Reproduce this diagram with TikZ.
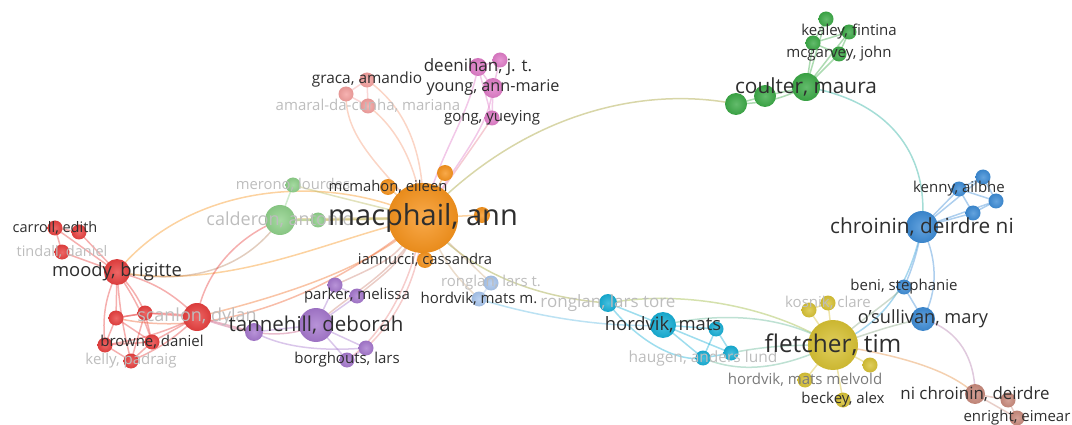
\documentclass[tikz,border=0pt]{standalone}
\usepackage{fontspec}
\setmainfont{Open Sans}
\definecolor{cOr}{HTML}{F7941D}
\definecolor{cRed}{HTML}{E8403F}
\definecolor{cLg}{HTML}{8FD18A}
\definecolor{cPu}{HTML}{A678CE}
\definecolor{cLb}{HTML}{A9C6EE}
\definecolor{cCy}{HTML}{17AFD6}
\definecolor{cYe}{HTML}{D8C234}
\definecolor{cBl}{HTML}{3D8CD6}
\definecolor{cBr}{HTML}{C98A7C}
\definecolor{cGr}{HTML}{3CAA47}
\definecolor{cPk}{HTML}{E07CC8}
\definecolor{cLp}{HTML}{F4A09E}
\definecolor{dk}{HTML}{2E2E2E}
\definecolor{gy}{HTML}{BDBDBD}
\definecolor{mg}{HTML}{7A7A7A}
\pgfdeclarelayer{bg}
\pgfsetlayers{bg,main}
\newcommand\vn[4]{\node[ball=#4, minimum size=#3pt] (#1) at (#2) {};}
\newcommand\vlab[4]{\node[text=#1, font=\fontsize{#2}{#2}\selectfont, inner sep=0pt] (#3l) at (#3.center) {#4};}
\begin{document}
\begin{tikzpicture}[x=1pt,y=-1pt,
  ball/.style={circle, draw=none, inner sep=0pt, shading=radial, inner color=#1!80!white, outer color=#1!94!black},
  ed/.style={draw=#1, line width=1.5pt, draw opacity=0.42}]
\useasboundingbox (0,0) rectangle (1072,425);
% ---------------- nodes ----------------
% orange
\vn{mac}{423,218}{70}{cOr}
\vn{mc1}{388,187}{16}{cOr}
\vn{or2}{445,173}{16}{cOr}
\vn{or3}{482,215}{16}{cOr}
\vn{ian}{425,260}{16}{cOr}
% light green
\vn{cal}{280,220}{30}{cLg}
\vn{mer}{293,185}{15}{cLg}
\vn{gr3}{318,220}{15}{cLg}
% red
\vn{moody}{117,272}{26}{cRed}
\vn{car1}{55,228}{15}{cRed}
\vn{car2}{79,232}{15}{cRed}
\vn{tin}{62,252}{15}{cRed}
\vn{scan}{197,317}{28}{cRed}
\vn{r1}{145,313}{15}{cRed}
\vn{r2}{116,318}{15}{cRed}
\vn{brw}{152,342}{15}{cRed}
\vn{r3}{105,345}{15}{cRed}
\vn{kel}{131,361}{15}{cRed}
% purple
\vn{tan}{316,325}{34}{cPu}
\vn{p1}{254,332}{18}{cPu}
\vn{park}{357,296}{15}{cPu}
\vn{p2}{335,285}{15}{cPu}
\vn{borg}{347,360}{15}{cPu}
\vn{p3}{366,348}{15}{cPu}
% light blue
\vn{rlt}{491,283}{15}{cLb}
\vn{hmm}{479,299}{15}{cLb}
% cyan
\vn{rlto}{608,303}{18}{cCy}
\vn{hm}{663,325}{26}{cCy}
\vn{cy1}{716,329}{15}{cCy}
\vn{cy2}{731,353}{15}{cCy}
\vn{hau}{703,358}{15}{cCy}
% yellow
\vn{fl}{833,345}{50}{cYe}
\vn{ko1}{809,310}{15}{cYe}
\vn{kos}{828,303}{15}{cYe}
\vn{y3}{870,365}{15}{cYe}
\vn{hmmv}{805,380}{15}{cYe}
\vn{bec}{843,400}{15}{cYe}
% blue
\vn{chr}{922,227}{32}{cBl}
\vn{ken}{959,189}{15}{cBl}
\vn{b2}{983,177}{15}{cBl}
\vn{b3}{996,201}{15}{cBl}
\vn{b4}{973,213}{15}{cBl}
\vn{beni}{904,287}{15}{cBl}
\vn{osul}{923,319}{24}{cBl}
% brown
\vn{nic}{975,394}{20}{cBr}
\vn{br2}{1008,400}{15}{cBr}
\vn{enr}{1017,418}{15}{cBr}
% green
\vn{cou}{806,87}{28}{cGr}
\vn{g2}{765,96}{22}{cGr}
\vn{g3}{736,104}{22}{cGr}
\vn{kea1}{826,19}{15}{cGr}
\vn{kea}{849,32}{15}{cGr}
\vn{g6}{813,43}{15}{cGr}
\vn{mcg}{839,54}{15}{cGr}
% pink
\vn{deen}{478,67}{18}{cPk}
\vn{pk2}{500,60}{15}{cPk}
\vn{yng}{493,88}{20}{cPk}
\vn{gong}{492,118}{15}{cPk}
% light pink
\vn{gra}{367,80}{15}{cLp}
\vn{gp2}{346,94}{15}{cLp}
\vn{ama}{368,106}{15}{cLp}
% ---------------- edges ----------------
\begin{pgfonlayer}{bg}
% long links
\draw[ed=cOr!55!cGr] (mac.center) .. controls (520,115) and (640,85) .. (g3.center);
\draw[ed=cGr!40!cCy] (cou.center) .. controls (885,100) and (930,150) .. (chr.center);
\draw[ed=cBl!50!cCy] (chr.center) .. controls (912,270) and (895,320) .. (fl.center);
\draw[ed=cBl] (chr.center) .. controls (938,260) and (938,290) .. (osul.center);
\draw[ed=cBl] (chr.center) .. controls (918,250) and (912,270) .. (beni.center);
\draw[ed=cBl] (beni.center) -- (osul.center);
\draw[ed=cBl!50!cYe] (beni.center) .. controls (885,305) and (860,320) .. (fl.center);
\draw[ed=cBl!50!cYe] (osul.center) .. controls (890,325) and (865,335) .. (fl.center);
\draw[ed=cPu!60!cBr] (osul.center) .. controls (960,330) and (975,360) .. (nic.center);
\draw[ed=cOr!60!cBr] (fl.center) .. controls (900,355) and (950,370) .. (nic.center);
% towards fletcher
\draw[ed=cOr!50!cGr] (mac.center) .. controls (470,275) and (540,298) .. (rlto.center);
\draw[ed=cGr!40!cYe] (rlto.center) .. controls (680,290) and (770,305) .. (fl.center);
\draw[ed=cCy!60!cYe] (hm.center) .. controls (730,310) and (790,318) .. (fl.center);
\draw[ed=cCy!60!cYe] (hau.center) .. controls (750,378) and (795,362) .. (fl.center);
\draw[ed=cCy!60!cYe] (cy2.center) .. controls (770,345) and (800,345) .. (fl.center);
\draw[ed=cLb!50!cCy] (hmm.center) .. controls (540,318) and (610,328) .. (hm.center);
\draw[ed=cCy] (rlto.center) -- (hm.center);
\draw[ed=cCy] (rlto.center) .. controls (640,345) and (680,362) .. (hau.center);
\draw[ed=cCy] (hm.center) -- (cy1.center);
\draw[ed=cCy] (hm.center) -- (cy2.center);
\draw[ed=cCy] (hm.center) -- (hau.center);
\draw[ed=cCy] (cy1.center) -- (cy2.center);
\draw[ed=cCy] (cy1.center) -- (hau.center);
\draw[ed=cCy] (cy2.center) -- (hau.center);
\draw[ed=cLb] (rlt.center) -- (hmm.center);
\draw[ed=cLb!50!cOr] (mac.center) -- (rlt.center);
\draw[ed=cLb!50!cOr] (mac.center) .. controls (450,270) .. (hmm.center);
% left side
\draw[ed=cOr] (mac.center) .. controls (330,172) and (190,182) .. (moody.center);
\draw[ed=cOr] (mac.center) .. controls (330,238) and (230,292) .. (moody.center);
\draw[ed=cLg!50!cRed] (cal.center) .. controls (250,262) and (200,288) .. (moody.center);
\draw[ed=cOr!60!cLg, line width=3pt] (mac.center) -- (cal.center);
\draw[ed=cLg] (cal.center) -- (mer.center);
\draw[ed=cLg] (cal.center) -- (gr3.center);
\draw[ed=cLg!60!cOr] (mer.center) .. controls (330,195) .. (mac.center);
\draw[ed=cLg!60!cOr] (gr3.center) -- (mac.center);
\draw[ed=cRed] (scan.center) .. controls (205,270) and (240,235) .. (cal.center);
\draw[ed=cOr!60!cRed] (scan.center) .. controls (300,292) and (380,262) .. (mac.center);
\draw[ed=cRed!50!cPu] (scan.center) .. controls (240,332) and (280,342) .. (tan.center);
\draw[ed=cRed!60!cOr] (r2.center) .. controls (190,335) and (300,318) .. (mac.center);
\draw[ed=cRed!60!cPu] (scan.center) -- (p1.center);
% red internal
\draw[ed=cRed] (moody.center) -- (car1.center);
\draw[ed=cRed] (moody.center) -- (car2.center);
\draw[ed=cRed] (moody.center) -- (tin.center);
\draw[ed=cRed] (car1.center) -- (car2.center);
\draw[ed=cRed] (car1.center) -- (tin.center);
\draw[ed=cRed] (moody.center) to[bend left=10] (r1.center);
\draw[ed=cRed] (moody.center) -- (r2.center);
\draw[ed=cRed] (moody.center) to[bend right=15] (r3.center);
\draw[ed=cRed] (moody.center) to[bend left=8] (brw.center);
\draw[ed=cRed] (moody.center) to[bend right=5] (kel.center);
\draw[ed=cRed] (moody.center) to[bend left=15] (scan.center);
\draw[ed=cRed] (scan.center) -- (r1.center);
\draw[ed=cRed] (scan.center) to[bend right=10] (r2.center);
\draw[ed=cRed] (scan.center) to[bend left=8] (r3.center);
\draw[ed=cRed] (scan.center) -- (brw.center);
\draw[ed=cRed] (scan.center) to[bend left=10] (kel.center);
\draw[ed=cRed] (r1.center) -- (r2.center);
\draw[ed=cRed] (r2.center) -- (brw.center);
\draw[ed=cRed] (r2.center) -- (r3.center);
\draw[ed=cRed] (r3.center) -- (kel.center);
\draw[ed=cRed] (brw.center) -- (kel.center);
\draw[ed=cRed] (r3.center) -- (brw.center);
\draw[ed=cRed] (r1.center) -- (kel.center);
\draw[ed=cRed] (r1.center) -- (brw.center);
% purple
\draw[ed=cPu!50!cOr] (mac.center) .. controls (400,272) and (350,292) .. (tan.center);
\draw[ed=cPu!50!cOr] (mac.center) .. controls (395,258) .. (p2.center);
\draw[ed=cPu!50!cOr] (mac.center) .. controls (400,262) .. (park.center);
\draw[ed=cPk!60!cOr] (mac.center) .. controls (420,290) and (385,330) .. (p3.center);
\draw[ed=cPk!60!cOr] (mac.center) .. controls (410,300) and (370,345) .. (borg.center);
\draw[ed=cPu] (tan.center) -- (p1.center);
\draw[ed=cPu] (tan.center) -- (park.center);
\draw[ed=cPu] (tan.center) -- (p2.center);
\draw[ed=cPu] (tan.center) -- (borg.center);
\draw[ed=cPu] (tan.center) -- (p3.center);
\draw[ed=cPu] (borg.center) -- (p3.center);
\draw[ed=cPu] (park.center) -- (p2.center);
\draw[ed=cPu] (p1.center) .. controls (290,352) and (340,350) .. (p3.center);
% orange internal
\draw[ed=cOr] (mac.center) -- (mc1.center);
\draw[ed=cOr] (mac.center) -- (or2.center);
\draw[ed=cOr] (mac.center) -- (or3.center);
\draw[ed=cOr] (mac.center) -- (ian.center);
% graca
\draw[ed=cLp!70!cOr] (mac.center) .. controls (385,170) and (345,140) .. (gp2.center);
\draw[ed=cLp!70!cOr] (mac.center) .. controls (425,160) and (410,110) .. (gra.center);
\draw[ed=cLp!70!cOr] (mac.center) .. controls (418,170) and (400,130) .. (ama.center);
\draw[ed=cLp] (gra.center) -- (gp2.center);
\draw[ed=cLp] (gra.center) -- (ama.center);
\draw[ed=cLp] (gp2.center) -- (ama.center);
% pink
\draw[ed=cPk!70!cOr] (mac.center) .. controls (452,175) and (478,140) .. (gong.center);
\draw[ed=cPk] (mac.center) .. controls (440,150) and (468,120) .. (deen.center);
\draw[ed=cPk] (mac.center) .. controls (458,160) and (488,130) .. (yng.center);
\draw[ed=cPk] (deen.center) -- (pk2.center);
\draw[ed=cPk] (deen.center) -- (yng.center);
\draw[ed=cPk] (pk2.center) -- (yng.center);
\draw[ed=cPk] (yng.center) -- (gong.center);
\draw[ed=cPk] (deen.center) -- (gong.center);
% green
\draw[ed=cGr] (cou.center) -- (g2.center);
\draw[ed=cGr] (g2.center) -- (g3.center);
\draw[ed=cGr] (cou.center) to[bend left=12] (g3.center);
\draw[ed=cGr] (cou.center) -- (kea1.center);
\draw[ed=cGr] (cou.center) -- (kea.center);
\draw[ed=cGr] (cou.center) -- (g6.center);
\draw[ed=cGr] (cou.center) -- (mcg.center);
\draw[ed=cGr] (g6.center) -- (kea1.center);
\draw[ed=cGr] (g6.center) -- (kea.center);
\draw[ed=cGr] (kea.center) -- (mcg.center);
\draw[ed=cGr] (g6.center) -- (mcg.center);
% blue
\draw[ed=cBl] (chr.center) -- (ken.center);
\draw[ed=cBl] (chr.center) -- (b2.center);
\draw[ed=cBl] (chr.center) -- (b3.center);
\draw[ed=cBl] (chr.center) -- (b4.center);
\draw[ed=cBl] (ken.center) -- (b2.center);
\draw[ed=cBl] (ken.center) -- (b3.center);
\draw[ed=cBl] (ken.center) -- (b4.center);
\draw[ed=cBl] (b2.center) -- (b3.center);
\draw[ed=cBl] (b3.center) -- (b4.center);
% yellow
\draw[ed=cYe] (fl.center) -- (ko1.center);
\draw[ed=cYe] (fl.center) -- (kos.center);
\draw[ed=cYe] (ko1.center) -- (kos.center);
\draw[ed=cYe] (fl.center) -- (y3.center);
\draw[ed=cYe] (fl.center) -- (hmmv.center);
\draw[ed=cYe] (fl.center) -- (bec.center);
% brown
\draw[ed=cBr] (nic.center) -- (br2.center);
\draw[ed=cBr] (nic.center) -- (enr.center);
\draw[ed=cBr] (br2.center) -- (enr.center);
\end{pgfonlayer}
% ---------------- labels ----------------
\vlab{gy}{18}{cal}{calderon, antonio}
\vlab{gy}{14.8}{mer}{merono, lourdes}
\vlab{dk}{29}{mac}{macphail, ann}
\vlab{dk}{14.8}{mc1}{mcmahon, eileen}
\vlab{dk}{14.8}{ian}{iannucci, cassandra}
\vlab{dk}{14.5}{car1}{carroll, edith}
\vlab{gy}{14.5}{tin}{tindall, daniel}
\vlab{dk}{18.4}{moody}{moody, brigitte}
\vlab{gy}{18}{scan}{scanlon, dylan}
\vlab{dk}{15}{brw}{browne, daniel}
\vlab{gy}{15}{kel}{kelly, padraig}
\vlab{dk}{20.5}{tan}{tannehill, deborah}
\vlab{dk}{15}{park}{parker, melissa}
\vlab{dk}{15}{borg}{borghouts, lars}
\vlab{gy}{15}{rlt}{ronglan, lars t.}
\vlab{dk}{15}{hmm}{hordvik, mats m.}
\vlab{gy}{17}{rlto}{ronglan, lars tore}
\vlab{dk}{18.4}{hm}{hordvik, mats}
\vlab{gy}{15.5}{hau}{haugen, anders lund}
\vlab{gy}{15}{kos}{kosnik, clare}
\vlab{dk}{24.4}{fl}{fletcher, tim}
\vlab{mg}{15}{hmmv}{hordvik, mats melvold}
\vlab{dk}{15}{bec}{beckey, alex}
\vlab{dk}{15}{ken}{kenny, ailbhe}
\vlab{dk}{20.8}{chr}{chroinin, deirdre ni}
\vlab{dk}{15}{beni}{beni, stephanie}
\vlab{dk}{18.2}{osul}{o'sullivan, mary}
\vlab{dk}{16.9}{nic}{ni chroinin, deirdre}
\vlab{dk}{15}{enr}{enright, eimear}
\vlab{dk}{15}{kea}{kealey, fintina}
\vlab{dk}{15}{mcg}{mcgarvey, john}
\vlab{dk}{20.8}{cou}{coulter, maura}
\vlab{dk}{17}{deen}{deenihan, j. t.}
\vlab{dk}{16.2}{yng}{young, ann-marie}
\vlab{dk}{15}{gong}{gong, yueying}
\vlab{dk}{15.4}{gra}{graca, amandio}
\vlab{gy}{15}{ama}{amaral-da-cunha, mariana}
\end{tikzpicture}
\end{document}
